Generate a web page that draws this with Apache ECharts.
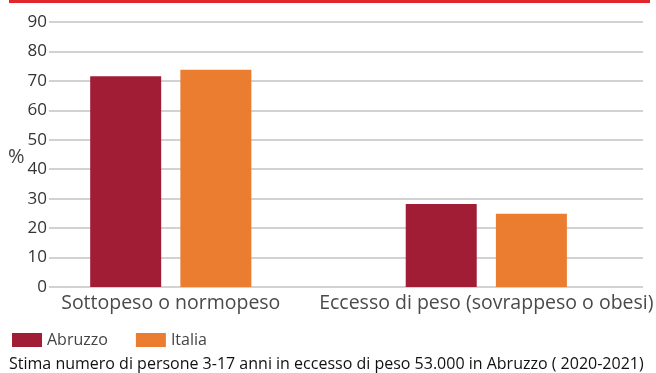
<!DOCTYPE html>
<html>
<head>
<meta charset="utf-8">
<script src="https://cdn.jsdelivr.net/npm/echarts@6/dist/echarts.min.js"></script>
<style>
  html, body { margin: 0; padding: 0; background: #fff; }
  #chart { width: 656px; height: 373px; }
</style>
</head>
<body>
<div id="chart"></div>
<script>
// Categories and values (%)
const categories = ['Sottopeso o normopeso', 'Eccesso di peso (sovrappeso o obesi)'];
const abruzzo = [71.6, 28.2];
const italia = [73.8, 24.9];
const seriesNames = ['Abruzzo', 'Italia'];
const yTicks = { min: 0, max: 90, interval: 10 };
const footnote = 'Stima numero di persone 3-17 anni in eccesso di peso 53.000 in Abruzzo ( 2020-2021)';

const FONT = '"Open Sans", sans-serif';
const chart = echarts.init(document.getElementById('chart'), null, { renderer: 'canvas' });

chart.setOption({
  backgroundColor: '#ffffff',
  animation: false,
  grid: [
    // gridlines and value labels
    { left: 49, right: 13, top: 22, bottom: 86 },
    // bars and category labels
    { left: 13, right: 10, top: 22, bottom: 86 }
  ],
  xAxis: [
    { gridIndex: 0, type: 'category', data: categories, show: false },
    {
      gridIndex: 1, type: 'category', data: categories,
      axisLine: { show: false }, axisTick: { show: false },
      axisLabel: { interval: 0, color: '#4a4a4a', fontSize: 19.5, fontFamily: FONT, margin: 6 }
    }
  ],
  yAxis: [
    {
      gridIndex: 0, type: 'value', min: yTicks.min, max: yTicks.max, interval: yTicks.interval,
      axisLine: { show: false }, axisTick: { show: false },
      axisLabel: { color: '#333', fontSize: 17, fontFamily: '"Liberation Sans Narrow", "Open Sans", sans-serif', margin: 2 },
      splitLine: { lineStyle: { color: '#d2d2d2', width: 2 } }
    },
    {
      gridIndex: 1, type: 'value', min: yTicks.min, max: yTicks.max, interval: yTicks.interval,
      show: false, splitLine: { show: false }
    }
  ],
  legend: {
    left: 12, top: 332, padding: 0, itemWidth: 30, itemHeight: 14, itemGap: 28,
    icon: 'rect',
    textStyle: { color: '#444', fontSize: 16, fontFamily: FONT },
    data: seriesNames
  },
  series: [
    {
      name: seriesNames[0], type: 'bar', xAxisIndex: 1, yAxisIndex: 1,
      data: abruzzo, barWidth: 71, barGap: '27%',
      itemStyle: { color: '#a11c35' }
    },
    {
      name: seriesNames[1], type: 'bar', xAxisIndex: 1, yAxisIndex: 1,
      data: italia, barWidth: 71, barGap: '27%',
      itemStyle: { color: '#eb7d31' }
    }
  ],
  graphic: [
    { type: 'rect', left: 9, top: 0, shape: { width: 641, height: 3 }, style: { fill: '#e3262b' } },
    { type: 'text', left: 8, top: 147, style: { text: '%', fill: '#444', font: '20px ' + FONT } },
    { type: 'text', left: 9, top: 356, style: { text: footnote, fill: '#111', font: '16px ' + FONT } }
  ]
});
</script>
</body>
</html>
